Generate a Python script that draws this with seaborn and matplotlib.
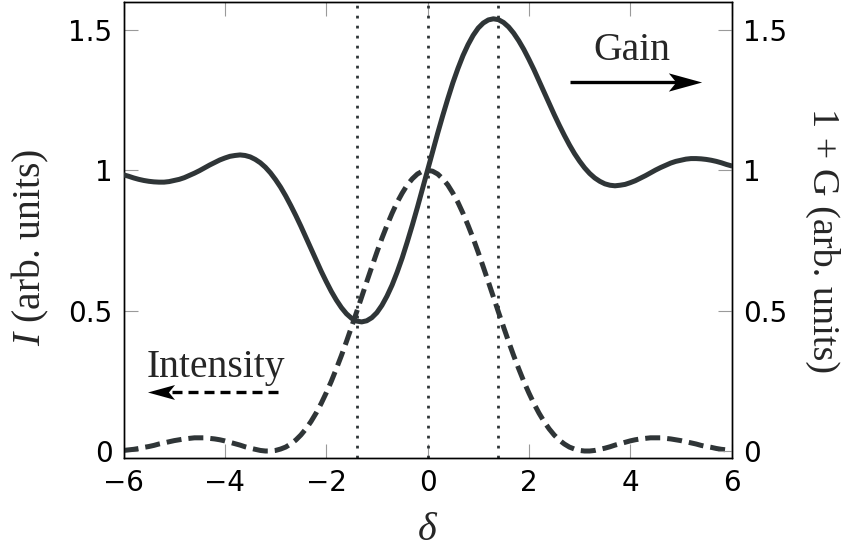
import matplotlib
matplotlib.use("Agg")
import matplotlib.pyplot as plt
from matplotlib.path import Path
import seaborn as sns
import pandas as pd

# Detuning grid and the two curves
delta = [-6.0, -5.9, -5.8, -5.7, -5.6, -5.5, -5.4, -5.3, -5.2, -5.1,
         -5.0, -4.9, -4.8, -4.7, -4.6, -4.5, -4.4, -4.3, -4.2, -4.1,
         -4.0, -3.9, -3.8, -3.7, -3.6, -3.5, -3.4, -3.3, -3.2, -3.1,
         -3.0, -2.9, -2.8, -2.7, -2.6, -2.5, -2.4, -2.3, -2.2, -2.1,
         -2.0, -1.9, -1.8, -1.7, -1.6, -1.5, -1.4, -1.3, -1.2, -1.1,
         -1.0, -0.9, -0.8, -0.7, -0.6, -0.5, -0.4, -0.3, -0.2, -0.1,
         0.0,
         0.1, 0.2, 0.3, 0.4, 0.5, 0.6, 0.7, 0.8, 0.9, 1.0,
         1.1, 1.2, 1.3, 1.4, 1.5, 1.6, 1.7, 1.8, 1.9, 2.0,
         2.1, 2.2, 2.3, 2.4, 2.5, 2.6, 2.7, 2.8, 2.9, 3.0,
         3.1, 3.2, 3.3, 3.4, 3.5, 3.6, 3.7, 3.8, 3.9, 4.0,
         4.1, 4.2, 4.3, 4.4, 4.5, 4.6, 4.7, 4.8, 4.9, 5.0,
         5.1, 5.2, 5.3, 5.4, 5.5, 5.6, 5.7, 5.8, 5.9, 6.0]

intensity = [0.002, 0.004, 0.006, 0.009, 0.013, 0.016, 0.020, 0.025, 0.029, 0.033,
             0.037, 0.040, 0.043, 0.045, 0.047, 0.047, 0.047, 0.045, 0.043, 0.040,
             0.036, 0.031, 0.026, 0.021, 0.015, 0.010, 0.006, 0.002, 0.000, 0.000,
             0.002, 0.007, 0.014, 0.025, 0.039, 0.057, 0.079, 0.105, 0.135, 0.169,
             0.207, 0.248, 0.293, 0.340, 0.390, 0.442, 0.495, 0.549, 0.603, 0.656,
             0.708, 0.758, 0.804, 0.847, 0.886, 0.919, 0.948, 0.970, 0.987, 0.997,
             1.000,
             0.997, 0.987, 0.970, 0.948, 0.919, 0.886, 0.847, 0.804, 0.758, 0.708,
             0.656, 0.603, 0.549, 0.495, 0.442, 0.390, 0.340, 0.293, 0.248, 0.207,
             0.169, 0.135, 0.105, 0.079, 0.057, 0.039, 0.025, 0.014, 0.007, 0.002,
             0.000, 0.000, 0.002, 0.006, 0.010, 0.015, 0.021, 0.026, 0.031, 0.036,
             0.040, 0.043, 0.045, 0.047, 0.047, 0.047, 0.045, 0.043, 0.040, 0.037,
             0.033, 0.029, 0.025, 0.020, 0.016, 0.013, 0.009, 0.006, 0.004, 0.002]

gain = [0.984, 0.979, 0.973, 0.968, 0.964, 0.961, 0.959, 0.958, 0.958, 0.960,
        0.964, 0.968, 0.974, 0.982, 0.990, 0.999, 1.009, 1.019, 1.028, 1.037,
        1.044, 1.050, 1.053, 1.055, 1.053, 1.048, 1.039, 1.027, 1.011, 0.991,
        0.967, 0.940, 0.909, 0.875, 0.839, 0.801, 0.761, 0.721, 0.681, 0.641,
        0.604, 0.569, 0.538, 0.511, 0.489, 0.473, 0.463, 0.460, 0.464, 0.475,
        0.493, 0.519, 0.552, 0.591, 0.637, 0.688, 0.745, 0.805, 0.868, 0.934,
        1.000,
        1.066, 1.132, 1.195, 1.255, 1.312, 1.363, 1.409, 1.448, 1.481, 1.507,
        1.525, 1.536, 1.540, 1.537, 1.527, 1.511, 1.489, 1.462, 1.431, 1.396,
        1.359, 1.319, 1.279, 1.239, 1.199, 1.161, 1.125, 1.091, 1.060, 1.033,
        1.009, 0.989, 0.973, 0.961, 0.952, 0.947, 0.945, 0.947, 0.950, 0.956,
        0.963, 0.972, 0.981, 0.991, 1.001, 1.010, 1.018, 1.026, 1.032, 1.036,
        1.040, 1.042, 1.042, 1.041, 1.039, 1.036, 1.032, 1.027, 1.021, 1.016]

# Markers for half-maximum points and line centre
guide_lines = [-1.39, 0.0, 1.39]

x_ticks = [-6, -4, -2, 0, 2, 4, 6]
x_tick_labels = ["\u22126", "\u22124", "\u22122", "0", "2", "4", "6"]
y_ticks = [0, 0.5, 1, 1.5]
y_tick_labels = ["0", "0.5", "1", "1.5"]

df = pd.DataFrame({"delta": delta, "intensity": intensity, "gain": gain})

sns.set_theme(style="white")
plt.rcParams["font.family"] = ["DejaVu Sans"]
plt.rcParams["mathtext.fontset"] = "custom"
plt.rcParams["mathtext.rm"] = "Liberation Serif"
plt.rcParams["mathtext.it"] = "Liberation Serif:italic"

LINE = "#2f3537"
SERIF = ["Liberation Serif", "DejaVu Serif"]


def stealth(direction):
    """Notched arrow-head marker pointing right (+1) or left (-1)."""
    d = direction
    verts = [(d * 1.0, 0.0), (-d * 1.0, 0.55), (-d * 0.55, 0.0),
             (-d * 1.0, -0.55), (d * 1.0, 0.0)]
    codes = [Path.MOVETO, Path.LINETO, Path.LINETO, Path.LINETO, Path.CLOSEPOLY]
    return Path(verts, codes)


fig = plt.figure(figsize=(8.45, 5.48), dpi=100)
ax = fig.add_axes([0.1462, 0.1642, 0.7195, 0.8322])
ax2 = ax.twinx()

for xv in guide_lines:
    ax.axvline(xv, color=LINE, lw=2.0, linestyle=(0, (1, 2.6)), zorder=1)

sns.lineplot(data=df, x="delta", y="intensity", ax=ax, color=LINE, lw=3.6, zorder=3)
ax.lines[-1].set_dashes((3.0, 1.4))
ax.lines[-1].set_dash_capstyle("butt")
sns.lineplot(data=df, x="delta", y="gain", ax=ax2, color=LINE, lw=3.6, zorder=3)

for a in (ax, ax2):
    a.set_xlim(-6, 6)
    a.set_ylim(-0.025, 1.6)
    a.set_yticks(y_ticks)
    a.set_yticklabels(y_tick_labels)

ax.set_xticks(x_ticks)
ax.set_xticklabels(x_tick_labels)

tick_kw = dict(direction="in", length=10, width=0.8, color="#9a9a9a",
               labelsize=20, labelcolor="black")
ax.tick_params(axis="x", bottom=True, top=True, pad=8, **tick_kw)
ax.tick_params(axis="y", left=True, right=False, pad=8, **tick_kw)
ax2.tick_params(axis="y", right=True, left=False, pad=8, **tick_kw)

for a in (ax, ax2):
    for s in a.spines.values():
        s.set_color("black")
        s.set_linewidth(1.0)

ax.set_xlabel("\u03b4", fontsize=29, family=SERIF, style="italic")
ax.xaxis.set_label_coords(0.5, -0.160)
ax.xaxis.label.set_va("center")
ax.set_ylabel("$I$ (arb. units)", fontsize=28.5, family=SERIF)
ax.yaxis.set_label_coords(-0.154, 0.463)
ax.yaxis.label.set_va("center")
ax2.set_ylabel("1 + G (arb. units)", fontsize=27.5, family=SERIF, rotation=-90)
ax2.yaxis.set_label_coords(1.150, 0.476)
ax2.yaxis.label.set_va("center")

# Annotations: which curve belongs to which axis
ax2.text(4.03, 1.393, "Gain", fontsize=28.5, family=SERIF, ha="center", va="baseline")
ax2.plot([2.81, 5.15], [1.315, 1.315], color="black", lw=2.4, solid_capstyle="butt")
ax2.plot([5.085], [1.315], marker=stealth(1), markersize=24, color="black",
         markeredgewidth=0, linestyle="none")

ax.text(-4.17, 0.264, "Intensity", fontsize=28.5, family=SERIF, ha="center", va="baseline")
ax.plot([-2.95, -5.2], [0.210, 0.210], color="black", lw=2.4,
        dashes=(3.0, 1.8), dash_capstyle="butt")
ax.plot([-5.254], [0.210], marker=stealth(-1), markersize=19.5, color="black",
        markeredgewidth=0, linestyle="none")

fig.savefig("out.png", dpi=100)
